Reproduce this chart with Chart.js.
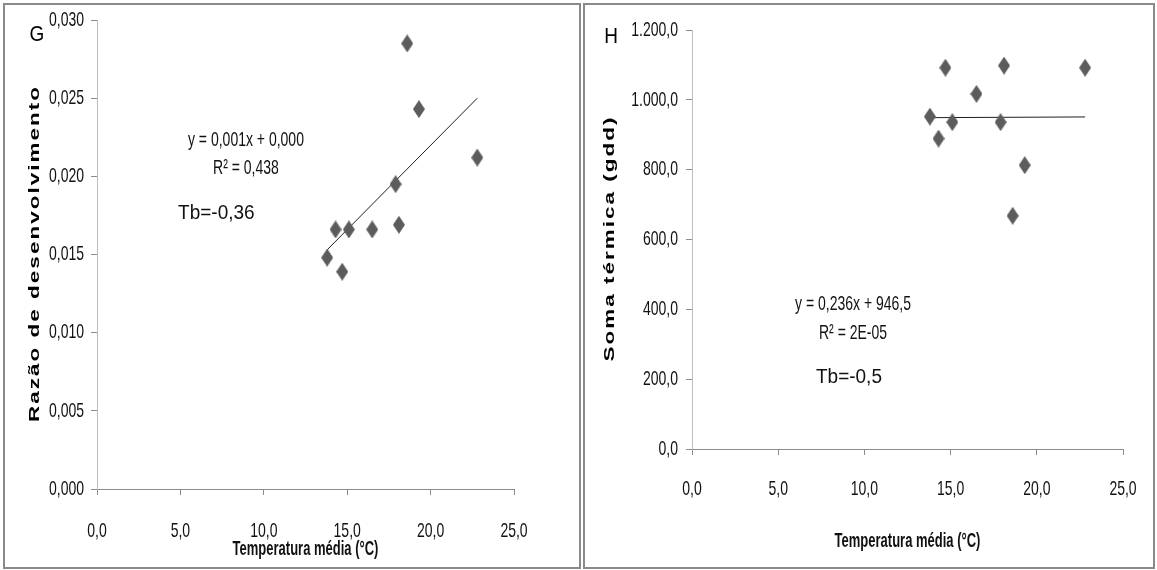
<!DOCTYPE html>
<html>
<head>
<meta charset="utf-8">
<script src="https://cdn.jsdelivr.net/npm/chart.js@4.4.1/dist/chart.umd.min.js"></script>
<style>
  body { margin: 0; background: #fff; width: 1157px; height: 570px; position: relative; overflow: hidden; }
  .painel { position: absolute; top: 3px; border: 2px solid #8a8a8a; background: #fff; }
  #painelG { left: 3px; width: 574px; height: 562px; }
  #painelH { left: 583px; width: 568px; height: 562px; }
  canvas { display: block; }
</style>
</head>
<body>
<div class="painel" id="painelG"><canvas id="graficoG" width="574" height="562"></canvas></div>
<div class="painel" id="painelH"><canvas id="graficoH" width="568" height="562"></canvas></div>
<script>
// Dados
const temperatura = [13.8, 14.3, 14.7, 15.1, 16.5, 17.9, 18.1, 18.6, 19.3, 22.8];
const razaoDesenvolvimento = [0.0148, 0.0166, 0.0139, 0.0166, 0.0166, 0.0195, 0.0169, 0.0285, 0.0243, 0.0212];
const somaTermica = [952, 889, 1092, 936, 1017, 936, 1098, 668, 813, 1092];

// Linhas de tendência (extremos)
const tendenciaX = [13.8, 22.8];
const tendenciaG = [0.0153, 0.0250];
const tendenciaH = [949, 951];

// Marcas dos eixos
const ticksX = [0, 5, 10, 15, 20, 25];
const ticksG = [0, 0.005, 0.010, 0.015, 0.020, 0.025, 0.030];
const ticksH = [0, 200, 400, 600, 800, 1000, 1200];

const fonteArial = "'Liberation Sans', Arial, sans-serif";
const ESTICAR = 1.5; // o original foi esticado na vertical

// losango alto usado como marcador
function criarLosango() {
    const c = document.createElement("canvas");
    c.width = 12; c.height = 18;
    const g = c.getContext("2d");
    g.fillStyle = "#5c5c5c";
    g.beginPath();
    g.moveTo(6, 0); g.lineTo(12, 9); g.lineTo(6, 18); g.lineTo(0, 9);
    g.closePath();
    g.fill();
    return c;
}
const losango = criarLosango();

function formatoBR(v, casas) {
    const partes = v.toFixed(casas).split(".");
    partes[0] = partes[0].replace(/\B(?=(\d{3})+(?!\d))/g, ".");
    return partes.join(",");
}

// texto esticado na vertical
function textoEsticado(ctx, texto, x, y, fonte, fator, alinhar) {
    ctx.save();
    ctx.translate(x, y);
    ctx.scale(1, fator);
    ctx.font = fonte;
    ctx.textAlign = alinhar || "center";
    ctx.textBaseline = "middle";
    ctx.fillText(texto, 0, 0);
    ctx.restore();
}

// texto girado (título do eixo y), esticado e com espaço entre letras
function textoGirado(ctx, texto, cx, cy, fonte, fator, espaco) {
    ctx.save();
    ctx.font = fonte;
    const letras = [...texto];
    const larguras = letras.map(ch => ctx.measureText(ch).width);
    const total = larguras.reduce((a, b) => a + b, 0) + (espaco / fator) * (letras.length - 1);
    ctx.translate(cx, cy);
    ctx.rotate(-Math.PI / 2);
    ctx.scale(fator, 1);
    ctx.textAlign = "left";
    ctx.textBaseline = "middle";
    let pos = -total / 2;
    letras.forEach((ch, i) => {
        ctx.fillText(ch, pos, 0);
        pos += larguras[i] + espaco / fator;
    });
    ctx.restore();
}

const pluginTextos = {
    id: "textos",
    afterDatasetsDraw(chart, args, opts) {
        const ctx = chart.ctx;
        const sx = chart.scales.x, sy = chart.scales.y;
        const area = chart.chartArea;
        const fonteTick = "14px " + fonteArial;
        ctx.save();
        ctx.fillStyle = "#111";
        // rótulos dos eixos
        sx.ticks.forEach(t => {
            textoEsticado(ctx, formatoBR(t.value, 1), sx.getPixelForValue(t.value), opts.rotuloXy, fonteTick, ESTICAR, "center");
        });
        sy.ticks.forEach(t => {
            textoEsticado(ctx, formatoBR(t.value, opts.casasY), opts.rotuloYx, sy.getPixelForValue(t.value), fonteTick, ESTICAR, "right");
        });
        // título do eixo x
        textoEsticado(ctx, "Temperatura média (°C)", (area.left + area.right) / 2, opts.tituloXy, "bold 13px " + fonteArial, ESTICAR, "center");
        // título do eixo y
        ctx.fillStyle = "#000";
        textoGirado(ctx, opts.tituloY, opts.tituloYx, (area.top + area.bottom) / 2, "bold 15px " + fonteArial, ESTICAR, 2);
        // notas (equação, R², Tb)
        ctx.fillStyle = "#111";
        (opts.notas || []).forEach(n => {
            textoEsticado(ctx, n.texto, sx.getPixelForValue(n.x), sy.getPixelForValue(n.y), n.fonte, n.fator, n.alinhar);
        });
        // letra do painel
        ctx.fillStyle = "#000";
        textoEsticado(ctx, opts.letra, opts.letraX, opts.letraY, "19px " + fonteArial, 1.15, "center");
        ctx.restore();
    }
};

function eixoX(altura) {
    return {
        type: "linear",
        position: "bottom",
        min: 0,
        max: 25,
        afterBuildTicks: s => { s.ticks = ticksX.map(v => ({ value: v })); },
        afterFit: s => { s.height = altura; },
        grid: { drawOnChartArea: false, drawTicks: true, tickLength: 6, tickColor: "#8c8c8c" },
        border: { color: "#8c8c8c", width: 1 },
        ticks: { display: false }
    };
}

function eixoY(cfg) {
    return {
        type: "linear",
        position: "left",
        min: cfg.min,
        max: cfg.max,
        afterBuildTicks: s => { s.ticks = cfg.ticks.map(v => ({ value: v })); },
        afterFit: s => { s.width = cfg.largura; },
        grid: { drawOnChartArea: false, drawTicks: true, tickLength: 6, tickColor: "#8c8c8c" },
        border: { color: "#bdbdbd", width: 1 },
        ticks: { display: false }
    };
}

function montarGrafico(id, valores, tendencia, cfg) {
    const ctx = document.getElementById(id).getContext("2d");
    return new Chart(ctx, {
        type: "scatter",
        data: {
            datasets: [
                {
                    data: temperatura.map((t, i) => ({ x: t, y: valores[i] })),
                    pointStyle: losango,
                    pointRadius: 6,
                    pointHoverRadius: 6
                },
                {
                    data: tendenciaX.map((t, i) => ({ x: t, y: tendencia[i] })),
                    showLine: true,
                    borderColor: "#1e1e1e",
                    borderWidth: 1,
                    pointRadius: 0,
                    fill: false
                }
            ]
        },
        options: {
            responsive: false,
            animation: false,
            layout: { padding: cfg.padding },
            scales: {
                x: eixoX(cfg.alturaX),
                y: eixoY(cfg.y)
            },
            plugins: {
                legend: { display: false },
                tooltip: { enabled: false },
                textos: cfg.textos
            }
        },
        plugins: [pluginTextos]
    });
}

window.addEventListener("DOMContentLoaded", () => {
    montarGrafico("graficoG", razaoDesenvolvimento, tendenciaG, {
        padding: { left: 0, top: 15, right: 65, bottom: 0 },
        alturaX: 78,
        y: { min: 0, max: 0.030, ticks: ticksG, largura: 92 },
        textos: {
            casasY: 3, rotuloYx: 79, rotuloXy: 526, tituloXy: 545,
            letra: "G", letraX: 32, letraY: 30,
            tituloY: "Razão de desenvolvimento", tituloYx: 30,
            notas: [
                { texto: "y = 0,001x + 0,000", x: 8.93, y: 0.0223, fonte: "14px " + fonteArial, fator: ESTICAR },
                { texto: "R² = 0,438", x: 8.93, y: 0.0205, fonte: "14px " + fonteArial, fator: ESTICAR },
                { texto: "Tb=-0,36", x: 4.86, y: 0.0176, fonte: "19px " + fonteArial, fator: 1.05, alinhar: "left" }
            ]
        }
    });

    montarGrafico("graficoH", somaTermica, tendenciaH, {
        padding: { left: 0, top: 25, right: 30, bottom: 0 },
        alturaX: 118,
        y: { min: 0, max: 1200, ticks: ticksH, largura: 107 },
        textos: {
            casasY: 1, rotuloYx: 93, rotuloXy: 484, tituloXy: 537,
            letra: "H", letraX: 26, letraY: 32,
            tituloY: "Soma térmica (gdd)", tituloYx: 25,
            notas: [
                { texto: "y = 0,236x + 946,5", x: 9.34, y: 415, fonte: "14px " + fonteArial, fator: ESTICAR },
                { texto: "R² = 2E-05", x: 9.34, y: 332, fonte: "14px " + fonteArial, fator: ESTICAR },
                { texto: "Tb=-0,5", x: 7.19, y: 206, fonte: "19px " + fonteArial, fator: 1.05, alinhar: "left" }
            ]
        }
    });
});
</script>
</body>
</html>
